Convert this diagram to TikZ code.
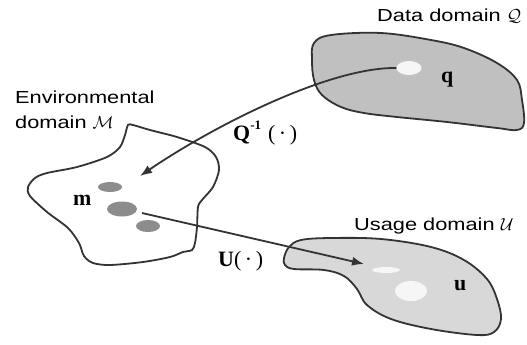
\documentclass[tikz,border=0pt]{standalone}
\usepackage{fix-cm}
\usepackage{fontspec}
\usetikzlibrary{arrows.meta,shapes.geometric}
\newfontfamily\capfont{Liberation Sans}[FakeStretch=1.25]
\newfontfamily\symfont{Liberation Serif}
\definecolor{edge}{RGB}{51,51,51}
\definecolor{datafill}{RGB}{192,192,192}
\definecolor{usefill}{RGB}{216,216,216}
\definecolor{blob}{RGB}{140,140,140}
\definecolor{hole}{RGB}{246,246,246}
\tikzset{
  region/.style={draw=edge, line width=1.8bp},
  caption/.style={inner sep=0pt, anchor=base west, font=\capfont\fontsize{17.5}{20}\selectfont},
  sym/.style={inner sep=0pt, anchor=base west, font=\symfont\fontsize{22}{26}\selectfont\bfseries},
  spot/.style={ellipse, inner sep=0pt, draw=none},
  mapping/.style={draw=edge, line width=1.8bp, -{Latex[length=12bp,width=9bp]}}
}
\begin{document}
\begin{tikzpicture}[x=1bp,y=-1bp]
\useasboundingbox (0,0) rectangle (527,344);

% data domain Q
\draw[region, fill=datafill] plot[smooth cycle, tension=0.6] coordinates {
  (314,43) (331,35) (381,33) (431,40) (464,48) (497,63) (517,80) (522,100)
  (524,123) (517,130) (497,128) (447,122) (397,117) (364,113) (341,107)
  (322,95) (314,80) (312,60)};

% usage domain U
\draw[region, fill=usefill] plot[smooth cycle, tension=0.6] coordinates {
  (284,258) (289,247) (301,240) (331,238) (381,239) (431,247) (464,260)
  (487,279) (497,299) (501,319) (494,332) (477,335) (431,329) (391,319)
  (367,305) (357,289) (344,276) (324,270) (294,269) (285,265)};

% environmental domain M
\draw[region, fill=white] plot[smooth cycle, tension=0.5] coordinates {
  (128,125) (125,135) (120,147) (107,157) (77,167) (47,173) (35,178)
  (28,187) (30,196) (47,212) (68,228) (79,243) (84,256) (93,263) (110,265)
  (143,262) (170,257) (183,252) (192,250) (195,243) (197,227) (198,207)
  (202,200) (213,187) (219,170) (216,157) (205,147) (177,137) (150,130)
  (133,125)};

% spots inside the domains
\node[spot, fill=blob, minimum width=24bp, minimum height=10bp] (m1) at (110,187) {};
\node[spot, fill=blob, minimum width=30bp, minimum height=15bp] (m2) at (122,209) {};
\node[spot, fill=blob, minimum width=24bp, minimum height=12bp] (m3) at (148,226) {};
\node[spot, fill=hole, minimum width=25bp, minimum height=14bp] (qs) at (409,68) {};
\node[spot, fill=hole, minimum width=28bp, minimum height=6bp] (u1) at (386,270) {};
\node[spot, fill=hole, minimum width=32bp, minimum height=20bp] (u2) at (411,291) {};

% captions
\node[caption] (envA) at (15,103) {Environmental};
\node[caption] (envB) at (15,128) {domain $\mathcal{M}$};
\node[caption] (dataL) at (377,21) {Data domain $\mathcal{Q}$};
\node[caption] (useL) at (354,230) {Usage domain $\mathcal{U}$};

% element symbols
\node[sym] (mL) at (73,205) {m};
\node[sym] (qL) at (441,82) {q};
\node[sym] (uL) at (454,290) {u};

% mappings
\coordinate (qtip) at (140,176);
\coordinate (mstart) at (142,213);
\coordinate (utip) at (364,264);
\draw[mapping] (qs.west) .. controls (330,67) and (215,125) .. (qtip);
\draw[mapping] (mstart) -- (utip);

\node[sym] (qmap) at (233,140) {Q\raisebox{0.5em}{\fontsize{13}{15}\selectfont -1}\hspace{7bp}\mdseries(\,·\,)};
\node[sym] (umap) at (218,266) {U\mdseries(\,·\,)};
\end{tikzpicture}
\end{document}
